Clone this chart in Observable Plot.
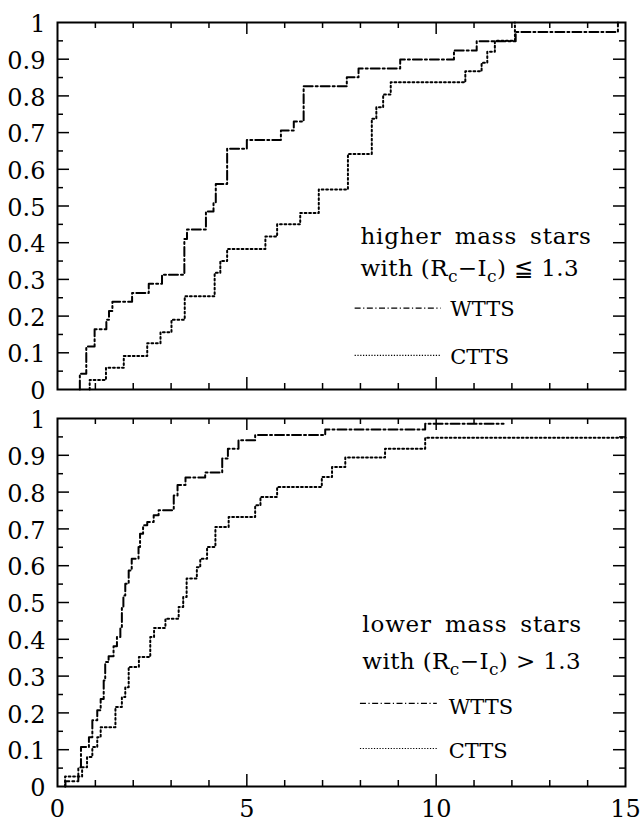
<!DOCTYPE html>
<html>
<head>
<meta charset="utf-8">
<script src="https://cdn.jsdelivr.net/npm/d3@7"></script>
<script src="https://cdn.jsdelivr.net/npm/@observablehq/plot@0.6"></script>
<style>
html, body { margin: 0; padding: 0; background: #fff; }
#chart svg { display: block; }
#chart svg text { font-family: "DejaVu Serif", "Liberation Serif", serif; }
</style>
</head>
<body>
<div id="chart"></div>
<script>
// ---------- data ----------
// Top panel: higher mass stars
const topWttsX = [0.59,0.59,0.76,0.98,1.29,1.36,1.45,1.97,2.41,2.76,3.35,3.42,3.92,4.12,4.18,4.48,5.00,5.90,6.24,6.50,7.64,7.95,9.05,10.47,11.07,12.10,14.80];
const topWttsY = [0,0.043,0.117,0.164,0.19,0.214,0.239,0.263,0.288,0.313,0.41,0.436,0.485,0.51,0.56,0.656,0.68,0.706,0.73,0.826,0.851,0.875,0.899,0.924,0.949,0.974,1.0];
const topCttsX = [0.85,0.85,1.28,1.75,2.37,2.72,3.01,3.36,4.15,4.30,4.48,5.49,5.80,6.41,6.90,7.67,8.30,8.42,8.60,8.80,10.77,11.20,11.35,11.55,12.08];
const topCttsY = [0,0.026,0.059,0.091,0.126,0.156,0.19,0.254,0.318,0.35,0.383,0.417,0.45,0.481,0.545,0.642,0.738,0.769,0.804,0.837,0.867,0.89,0.92,0.95,1.0];

// Bottom panel: lower mass stars
const botWttsX = [0.21,0.21,0.55,0.62,0.83,0.92,1.05,1.14,1.22,1.26,1.35,1.48,1.57,1.66,1.70,1.74,1.79,1.88,1.96,2.14,2.18,2.26,2.37,2.54,2.67,3.07,3.17,3.38,3.90,4.35,4.50,4.78,5.22,7.07,9.71,11.78];
const botWttsY = [0,0.014,0.052,0.107,0.134,0.18,0.207,0.238,0.288,0.338,0.354,0.381,0.406,0.433,0.488,0.519,0.551,0.587,0.619,0.651,0.687,0.71,0.719,0.737,0.751,0.791,0.819,0.84,0.853,0.891,0.918,0.941,0.955,0.970,0.986,0.986];
const botCttsX = [0.20,0.20,0.65,0.78,0.92,1.05,1.14,1.53,1.70,1.79,1.88,2.15,2.45,2.55,2.85,3.20,3.32,3.41,3.68,3.77,3.95,4.17,4.52,5.22,5.36,5.80,6.98,7.25,7.60,8.65,9.71,15.0];
const botCttsY = [0,0.027,0.052,0.08,0.107,0.134,0.161,0.216,0.243,0.27,0.325,0.352,0.406,0.431,0.456,0.488,0.515,0.565,0.596,0.619,0.651,0.705,0.732,0.764,0.787,0.814,0.841,0.868,0.894,0.918,0.948,0.948];

// tick values and labels
const xTickLabels = [0, 5, 10, 15];
const yTickLabels = [0, 0.1, 0.2, 0.3, 0.4, 0.5, 0.6, 0.7, 0.8, 0.9, 1];
const xMajorTicks = [5, 10];
const xMinorTicks = [1, 2, 3, 4, 6, 7, 8, 9, 11, 12, 13, 14];
const yMajorTicks = [0.1, 0.2, 0.3, 0.4, 0.5, 0.6, 0.7, 0.8, 0.9];
const yMinorTicks = [0.05, 0.15, 0.25, 0.35, 0.45, 0.55, 0.65, 0.75, 0.85, 0.95];

// legend texts
const seriesNames = ["WTTS", "CTTS"];
const topTitle = ["higher mass stars", "with (Rc−Ic) ≦ 1.3"];
const botTitle = ["lower mass stars", "with (Rc−Ic) > 1.3"];

// ---------- drawing ----------
const W = 642, ML = 57, MR = 17;
const FONT = "DejaVu Serif, Liberation Serif, serif";
const DASHDOT = "9,3,2,3";
const DOTTED = "1.8,2.7";

const rows = (xs, ys) => xs.map((x, i) => ({x, y: ys[i]}));
const fmt = d => d === 0 ? "0" : d === 1 ? "1" : d.toFixed(1);

function panel(o) {
  const innerW = W - ML - MR;
  const innerH = o.height - o.marginTop - o.marginBottom;
  const tk = {stroke: "black", strokeWidth: 1.5};
  const titleRows = o.title.map((t, i) => ({t, x: o.legend.titleX, y: o.legend.titleY[i]}));
  const sampleRows = seriesNames.map((n, i) => ({n, y: o.legend.sampleY[i], ty: o.legend.textY[i]}));
  const marks = [
    Plot.line(rows(o.wX, o.wY), {x: "x", y: "y", curve: "step-after", stroke: "black", strokeWidth: 2, strokeDasharray: DASHDOT}),
    Plot.line(rows(o.cX, o.cY), {x: "x", y: "y", curve: "step-after", stroke: "black", strokeWidth: 2, strokeDasharray: DOTTED}),
    // inward ticks on all four sides
    Plot.tickY(yMajorTicks, {y: d => d, insetRight: innerW - 12, ...tk}),
    Plot.tickY(yMajorTicks, {y: d => d, insetLeft: innerW - 12, ...tk}),
    Plot.tickY(yMinorTicks, {y: d => d, insetRight: innerW - 6, ...tk}),
    Plot.tickY(yMinorTicks, {y: d => d, insetLeft: innerW - 6, ...tk}),
    Plot.tickX(xMajorTicks, {x: d => d, insetTop: innerH - 12, ...tk}),
    Plot.tickX(xMajorTicks, {x: d => d, insetBottom: innerH - 12, ...tk}),
    Plot.tickX(xMinorTicks, {x: d => d, insetTop: innerH - 6, ...tk}),
    Plot.tickX(xMinorTicks, {x: d => d, insetBottom: innerH - 6, ...tk}),
    Plot.frame({stroke: "black", strokeWidth: 2}),
    Plot.axisY({ticks: yTickLabels, tickSize: 0, tickPadding: 12, fontSize: 24, fontFamily: FONT, tickFormat: fmt, label: null, dy: 2}),
    // legend
    Plot.text(titleRows, {x: "x", y: "y", text: "t", textAnchor: "start", lineAnchor: "middle", fontSize: 23, fontFamily: FONT, fill: "black"}),
    Plot.ruleY(sampleRows.slice(0, 1), {y: "y", x1: o.legend.sampleX[0], x2: o.legend.sampleX[1], stroke: "black", strokeWidth: 1.2, strokeDasharray: "6,2.5,1.2,2.5"}),
    Plot.ruleY(sampleRows.slice(1), {y: "y", x1: o.legend.sampleX[0], x2: o.legend.sampleX[1], stroke: "black", strokeWidth: 1.2, strokeDasharray: "1.2,1.6"}),
    Plot.text(sampleRows, {x: o.legend.textX, y: "ty", text: "n", textAnchor: "start", lineAnchor: "middle", fontSize: 21, fontFamily: FONT, fill: "black"})
  ];
  if (o.xLabels) {
    marks.push(Plot.axisX({ticks: xTickLabels, tickSize: 0, tickPadding: 13, fontSize: 24, fontFamily: FONT, label: null}));
  }
  const svg = Plot.plot({
    width: W, height: o.height,
    marginLeft: ML, marginRight: MR, marginTop: o.marginTop, marginBottom: o.marginBottom,
    x: {domain: [0, 15], axis: null, label: null},
    y: {domain: [0, 1], axis: null, label: null},
    style: {fontFamily: FONT, background: "white", color: "black", overflow: "visible"},
    marks
  });
  svg.setAttribute("font-family", FONT);
  // spacing of the legend text, and subscripts in (Rc−Ic)
  svg.querySelectorAll("text").forEach(t => {
    const s = t.textContent;
    if (s === o.title[0]) {
      t.setAttribute("letter-spacing", "0.8");
      t.setAttribute("word-spacing", "5");
    }
    if (s.startsWith("with (Rc−Ic)")) {
      t.setAttribute("letter-spacing", "0.4");
      const rest = s.slice("with (Rc−Ic)".length);
      const ns = "http://www.w3.org/2000/svg";
      const parts = [["with (R", 0, null], ["c", 6, 17], ["−I", -6, null], ["c", 6, 17], [")" + rest, -6, null]];
      t.textContent = "";
      for (const [txt, dy, fs] of parts) {
        const ts = document.createElementNS(ns, "tspan");
        ts.textContent = txt;
        if (dy) ts.setAttribute("dy", dy);
        if (fs) ts.setAttribute("font-size", fs);
        t.appendChild(ts);
      }
    }
  });
  return svg;
}

const chart = document.getElementById("chart");
chart.appendChild(panel({
  wX: topWttsX, wY: topWttsY, cX: topCttsX, cY: topCttsY,
  title: topTitle,
  legend: {titleX: 8.0, titleY: [0.416, 0.33], sampleX: [7.86, 10.13], sampleY: [0.2215, 0.093], textX: 10.37, textY: [0.219, 0.087]},
  height: 404, marginTop: 22, marginBottom: 15, xLabels: false
}));
chart.appendChild(panel({
  wX: botWttsX, wY: botWttsY, cX: botCttsX, cY: botCttsY,
  title: botTitle,
  legend: {titleX: 8.05, titleY: [0.4406, 0.339], sampleX: [8.0, 10.03], sampleY: [0.2257, 0.1033], textX: 10.33, textY: [0.215, 0.095]},
  height: 424, marginTop: 14, marginBottom: 42, xLabels: true
}));
</script>
</body>
</html>
